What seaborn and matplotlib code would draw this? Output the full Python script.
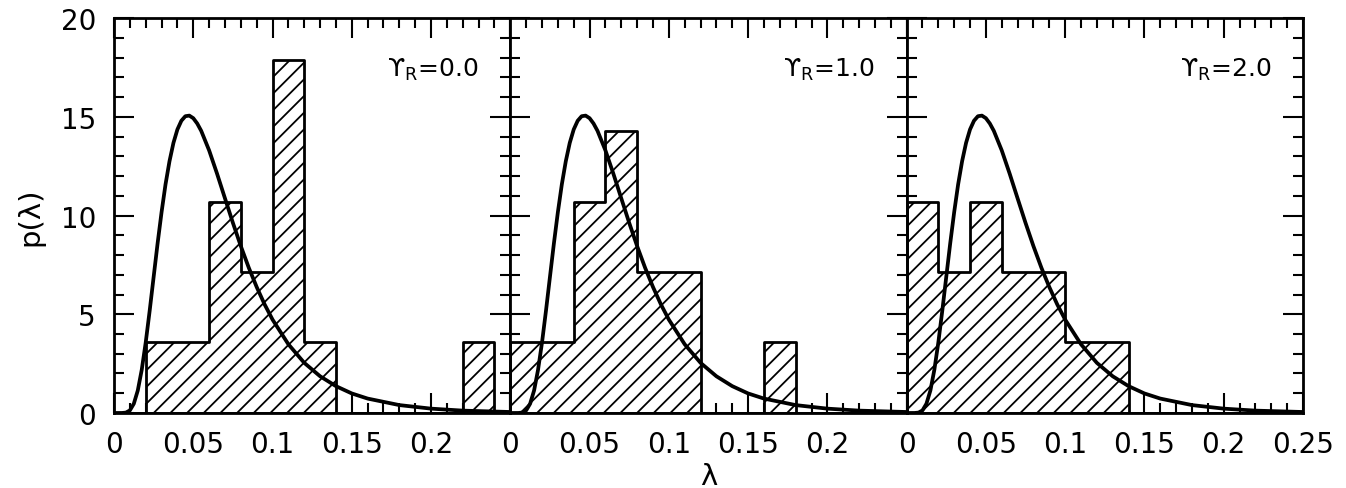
import numpy as np
import matplotlib
matplotlib.use("Agg")
import matplotlib.pyplot as plt
from matplotlib.ticker import MultipleLocator, FixedLocator, FixedFormatter
import seaborn as sns

# ---- data ----
bin_edges = [0.00, 0.02, 0.04, 0.06, 0.08, 0.10, 0.12, 0.14, 0.16, 0.18, 0.20, 0.22, 0.24]
bin_centers = [0.01, 0.03, 0.05, 0.07, 0.09, 0.11, 0.13, 0.15, 0.17, 0.19, 0.21, 0.23]
hist_r0 = [0.0, 3.57, 3.57, 10.71, 7.14, 17.86, 3.57, 0.0, 0.0, 0.0, 0.0, 3.57]
hist_r1 = [3.57, 3.57, 10.71, 14.29, 7.14, 7.14, 0.0, 0.0, 3.57, 0.0, 0.0, 0.0]
hist_r2 = [10.71, 7.14, 10.71, 7.14, 7.14, 3.57, 3.57, 0.0, 0.0, 0.0, 0.0, 0.0]
panel_labels = [r"ϒ$_\mathregular{R}$=0.0", r"ϒ$_\mathregular{R}$=1.0", r"ϒ$_\mathregular{R}$=2.0"]

curve_lam = [0.0, 0.005, 0.0075, 0.01, 0.0125, 0.015, 0.0175, 0.02, 0.0225, 0.025,
             0.0275, 0.03, 0.0325, 0.035, 0.0375, 0.04, 0.0425, 0.045, 0.0475, 0.05,
             0.0525, 0.055, 0.06, 0.065, 0.07, 0.075, 0.08, 0.085, 0.09, 0.095,
             0.10, 0.11, 0.12, 0.13, 0.14, 0.15, 0.16, 0.18, 0.20, 0.22, 0.25]
curve_p = [0.0, 0.001, 0.02, 0.13, 0.47, 1.14, 2.19, 3.57, 5.18, 6.89,
           8.59, 10.17, 11.58, 12.75, 13.68, 14.36, 14.80, 15.03, 15.06, 14.93,
           14.66, 14.29, 13.30, 12.12, 10.87, 9.63, 8.45, 7.36, 6.38, 5.50,
           4.73, 3.48, 2.54, 1.86, 1.36, 0.99, 0.73, 0.40, 0.22, 0.12, 0.05]

x_tick_vals = [0.0, 0.05, 0.10, 0.15, 0.20, 0.25]
x_tick_text = ["0", "0.05", "0.1", "0.15", "0.2", "0.25"]
y_tick_vals = [0, 5, 10, 15, 20]
y_tick_text = ["0", "5", "10", "15", "20"]

sns.set_style("white")
plt.rcParams["font.family"] = ["DejaVu Sans"]
plt.rcParams["hatch.linewidth"] = 1.3
plt.rcParams["mathtext.default"] = "regular"
plt.rcParams["text.color"] = "black"
plt.rcParams["axes.labelcolor"] = "black"
plt.rcParams["xtick.color"] = "black"
plt.rcParams["ytick.color"] = "black"

fig, axes = plt.subplots(1, 3, figsize=(13.46, 4.89), dpi=100, sharey=True)
fig.subplots_adjust(left=0.0847, right=0.968, bottom=0.1534, top=0.961, wspace=0)

hists = [hist_r0, hist_r1, hist_r2]
for i, ax in enumerate(axes):
    sns.histplot(x=bin_centers, weights=hists[i], bins=bin_edges, element="step",
                 fill=True, facecolor="white", edgecolor="black", linewidth=2.0,
                 hatch="//", ax=ax)
    sns.lineplot(x=curve_lam, y=curve_p, color="black", linewidth=2.7, ax=ax,
                 sort=False)
    ax.set_xlim(0, 0.25)
    ax.set_ylim(0, 20)
    ax.xaxis.set_major_locator(FixedLocator(x_tick_vals))
    labels = list(x_tick_text)
    if i < 2:
        labels[-1] = ""
    ax.xaxis.set_major_formatter(FixedFormatter(labels))
    ax.xaxis.set_minor_locator(MultipleLocator(0.01))
    ax.yaxis.set_major_locator(FixedLocator(y_tick_vals))
    ax.yaxis.set_major_formatter(FixedFormatter(y_tick_text))
    ax.yaxis.set_minor_locator(MultipleLocator(1))
    ax.tick_params(which="both", direction="in", top=True, right=True,
                   bottom=True, left=True, width=1.5, colors="black")
    ax.tick_params(which="major", length=14.5, labelsize=20, pad=12)
    ax.tick_params(which="minor", length=7)
    ax.tick_params(axis="y", which="major", pad=13)
    if i > 0:
        ax.tick_params(axis="y", labelleft=False)
    for s in ax.spines.values():
        s.set_linewidth(2.0)
        s.set_color("black")
        s.set_visible(True)
    ax.set_ylabel("")
    ax.set_xlabel("")
    ax.text(0.92, 0.871, panel_labels[i], transform=ax.transAxes, ha="right",
            va="center", fontsize=18, color="black")

axes[0].set_ylabel("p(λ)", fontsize=21, labelpad=12)
axes[1].set_xlabel("λ", fontsize=21, labelpad=3)

fig.savefig("out.png", dpi=100)
